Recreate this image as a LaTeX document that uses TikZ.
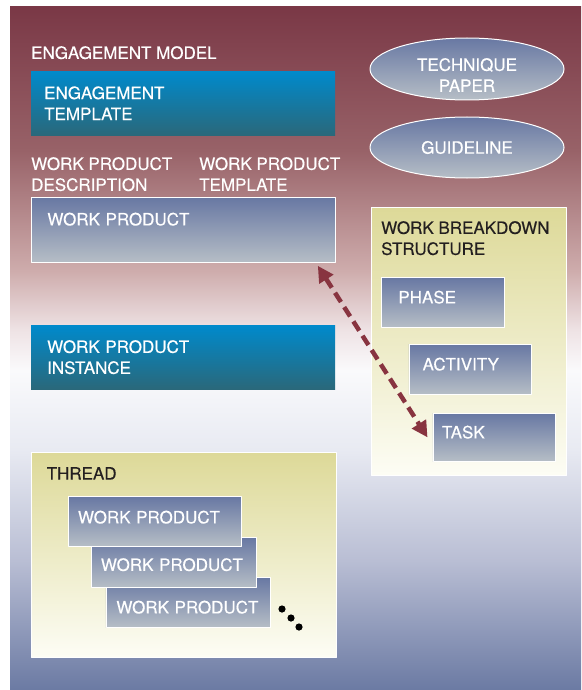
\documentclass[tikz,border=0pt]{standalone}
\usepackage{fontspec}
\setmainfont[FakeBold=0.3]{TeX Gyre Heros}
\usetikzlibrary{arrows.meta,shapes.geometric}

\definecolor{bgA}{RGB}{122,56,70}
\definecolor{bgB}{RGB}{152,98,104}
\definecolor{bgC}{RGB}{206,172,172}
\definecolor{bgD}{RGB}{238,226,228}
\definecolor{bgE}{RGB}{250,250,252}
\definecolor{bgF}{RGB}{232,234,242}
\definecolor{bgG}{RGB}{185,190,212}
\definecolor{bgH}{RGB}{107,122,163}
\definecolor{blueT}{RGB}{0,138,204}
\definecolor{blueB}{RGB}{42,104,122}
\definecolor{greyT}{RGB}{104,120,163}
\definecolor{greyB}{RGB}{182,190,198}
\definecolor{khakiT}{RGB}{221,217,152}
\definecolor{khakiB}{RGB}{253,253,245}
\definecolor{arrowred}{RGB}{136,52,64}
\definecolor{titleblack}{RGB}{35,31,32}

% backdrop: maroon at the top, white band, blue-grey at the bottom
\pgfdeclareverticalshading{bgfade}{100bp}{color(0bp)=(bgH); color(25bp)=(bgH);
  color(34.5bp)=(bgG); color(42.6bp)=(bgF); color(48.4bp)=(bgE); color(51.4bp)=(bgD);
  color(55.7bp)=(bgC); color(64.5bp)=(bgB); color(75bp)=(bgA); color(100bp)=(bgA)}

\begin{document}
\begin{tikzpicture}[x=1pt, y=-1pt, font=\fontsize{17}{21}\selectfont, line join=round,
    >={Triangle[length=16pt,width=16pt]},
    box/.style={rectangle, anchor=north west, align=left, text=white, inner ysep=0pt},
    bluebox/.style={box, top color=blueT, bottom color=blueB},
    greybox/.style={box, top color=greyT, bottom color=greyB, draw=white, line width=0.8pt,
      text height=12pt, text depth=0pt},
    panel/.style={rectangle, anchor=north west, top color=khakiT, bottom color=khakiB,
      draw=white, line width=1pt, inner sep=0pt},
    paneltitle/.style={anchor=north west, inner sep=0pt, align=left, text=titleblack},
    bglabel/.style={anchor=north west, inner sep=0pt, align=left, text=white},
    oval/.style={ellipse, minimum width=194pt, minimum height=62pt, inner sep=0pt,
      top color=greyT, bottom color=greyB, draw=white, line width=1pt},
    ovaltext/.style={align=center, text=white, inner sep=0pt},
    linkarrow/.style={<->, draw=arrowred, line width=4.5pt, dash pattern=on 11pt off 6pt, line cap=butt}]
  \useasboundingbox (0,0) rectangle (581,690);
  \shade[shading=bgfade] (10,7) rectangle (581,690);

  % left column
  \node[bglabel] (emlabel) at (31,46) {ENGAGEMENT MODEL};
  \node[bluebox, inner xsep=13pt, text width=278pt, minimum height=64pt] (eng) at (31,71) {ENGAGEMENT\\TEMPLATE};
  \node[bglabel] (wpdlabel) at (31,157) {WORK PRODUCT\\DESCRIPTION};
  \node[bglabel] (wptlabel) at (199,157) {WORK PRODUCT\\TEMPLATE};
  \node[greybox, inner xsep=16pt, text width=272pt, minimum height=65pt, text depth=21pt] (wp) at (31,197) {WORK PRODUCT};
  \node[bluebox, inner xsep=16pt, text width=272pt, minimum height=64pt] (wpi) at (31,325) {WORK PRODUCT\\INSTANCE};

  % right column
  \node[oval] (technique) at (467,69) {};
  \node[ovaltext] (techtext) at ([yshift=-6pt]technique.center) {TECHNIQUE\\PAPER};
  \node[oval, minimum height=61pt] (guideline) at (467,147.5) {};
  \node[ovaltext] (guidetext) at (guideline.center) {GUIDELINE};
  \node[panel, minimum width=195pt, minimum height=268pt] (wbs) at (371,207) {};
  \node[paneltitle] (wbstitle) at ([xshift=10pt,yshift=-14pt]wbs.north west) {WORK BREAKDOWN\\STRUCTURE};
  \node[greybox, inner xsep=17pt, text width=89pt, minimum height=50pt, text depth=10pt] (phase) at (381,277) {PHASE};
  \node[greybox, inner xsep=13.7pt, text width=95pt, minimum height=50pt, text depth=10pt] (activity) at (408.5,344) {ACTIVITY};
  \node[greybox, inner xsep=9pt, text width=104pt, minimum height=48pt, text depth=10pt] (task) at (432.5,413) {TASK};

  % thread with stacked work products
  \node[panel, minimum width=304.5pt, minimum height=205pt] (thread) at (31,452) {};
  \node[paneltitle] (threadtitle) at ([xshift=15.5pt,yshift=-15pt]thread.north west) {THREAD};
  \node[greybox, inner xsep=10.5pt, text width=143pt, minimum height=50pt, text height=22pt] (wp3) at (105.5,577) {WORK PRODUCT};
  \node[greybox, inner xsep=9.5pt, text width=145.5pt, minimum height=50pt, text height=17pt] (wp2) at (91,537) {WORK PRODUCT};
  \node[greybox, inner xsep=9.6pt, text width=153.8pt, minimum height=50pt, text depth=8pt] (wp1) at (68,496) {WORK PRODUCT};
  \foreach \x/\y in {282/609,291/618,299/627} \fill (\x,\y) circle (3.6pt);

  \draw[linkarrow] ([xshift=-18pt,yshift=-3pt]wp.south east) -- ([xshift=-5pt]task.west);
\end{tikzpicture}
\end{document}
